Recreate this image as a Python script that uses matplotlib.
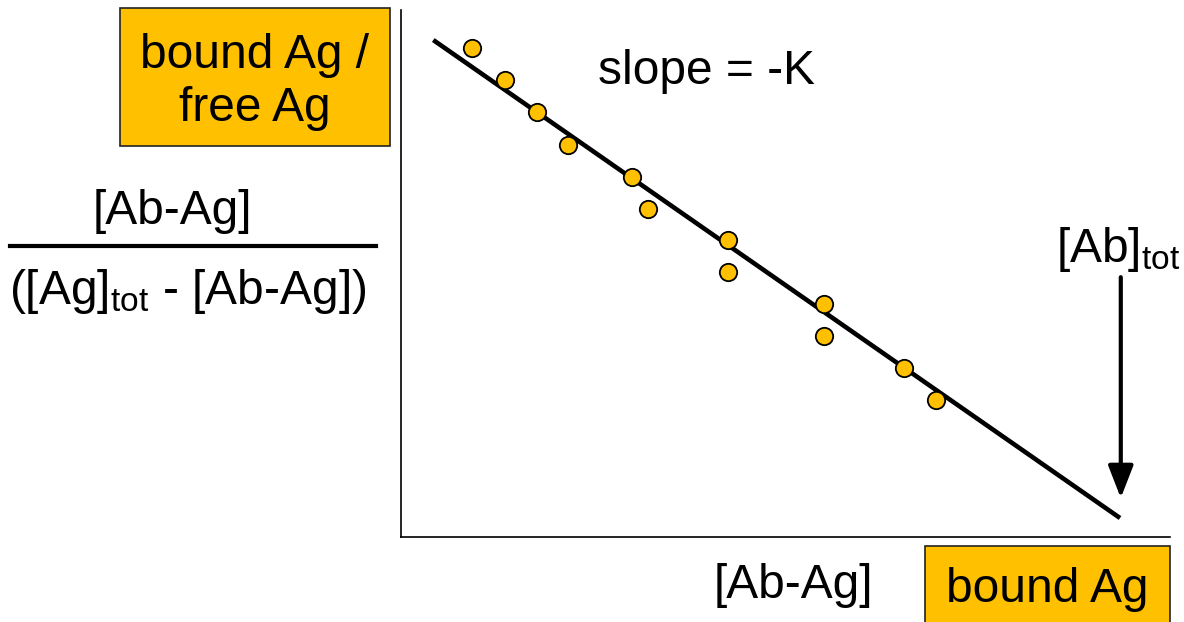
import matplotlib
matplotlib.use("Agg")
import matplotlib.pyplot as plt
from matplotlib.patches import Rectangle
from matplotlib.lines import Line2D

plt.rcParams['font.family'] = ['Liberation Sans', 'DejaVu Sans']
plt.rcParams['mathtext.fontset'] = 'custom'
plt.rcParams['mathtext.rm'] = 'Liberation Sans'
plt.rcParams['mathtext.it'] = 'Liberation Sans'

# data (arbitrary units)
bound_x = [9.2, 13.5, 17.7, 21.7, 30.0, 32.1, 42.5, 42.5, 55.0, 55.0, 65.4, 69.6]
ratio_y = [92.8, 86.7, 80.6, 74.4, 68.3, 62.2, 56.4, 50.3, 44.2, 38.1, 32.1, 26.0]
fit_x = [4.2, 93.5]
fit_y = [94.3, 3.6]
ab_tot_x = 93.6
arrow_y = [49.3, 7.4]

W, H = 1184, 622
fig = plt.figure(figsize=(W / 100, H / 100), dpi=100)
orange = '#FFC000'

ax = fig.add_axes([401 / W, 1 - 537 / H, (1170 - 401) / W, (537 - 10) / H])
ax.set_xlim(0, 100)
ax.set_ylim(0, 100)
for s in ['top', 'right']:
    ax.spines[s].set_visible(False)
for s in ['left', 'bottom']:
    ax.spines[s].set_linewidth(1.2)
ax.set_xticks([])
ax.set_yticks([])
ax.patch.set_alpha(0)

ax.plot(fit_x, fit_y, color='black', lw=3.3, solid_capstyle='butt', zorder=2)
ax.plot(bound_x, ratio_y, 'o', ms=12.5, mfc=orange, mec='black', mew=1.3, zorder=3)
ax.annotate('', xy=(ab_tot_x, arrow_y[1]), xytext=(ab_tot_x, arrow_y[0]),
            arrowprops=dict(arrowstyle='-|>,head_width=0.35,head_length=0.9',
                            lw=3, color='black', shrinkA=0, shrinkB=0,
                            mutation_scale=22))

fs = 34.5
def fx(px):
    return px / W
def fy(py):
    return 1 - py / H

fig.text(fx(706), fy(71), 'slope = -K', fontsize=fs, ha='center', va='center')
fig.text(fx(1118), fy(249), r'[Ab]$_{\mathrm{tot}}$', fontsize=fs, ha='center', va='center')

# top-left box
fig.patches.append(Rectangle((fx(120), fy(146)), (390 - 120) / W, (146 - 8) / H,
                             transform=fig.transFigure, facecolor=orange,
                             edgecolor='#222222', lw=1.2, zorder=0))
fig.text(fx(255), fy(82), 'bound Ag /\nfree Ag', fontsize=fs, ha='center', va='center',
         linespacing=1.22)

# fraction label
fig.text(fx(172), fy(212), '[Ab-Ag]', fontsize=fs, ha='center', va='center')
fig.lines.append(Line2D([fx(10), fx(376)], [fy(246), fy(246)], transform=fig.transFigure,
                        color='black', lw=3))
fig.text(fx(188), fy(292), r'([Ag]$_{\mathrm{tot}}$ - [Ab-Ag])', fontsize=fs,
         ha='center', va='center')

# x label
fig.text(fx(793), fy(585), '[Ab-Ag]', fontsize=fs, ha='center', va='center')
fig.patches.append(Rectangle((fx(925), fy(630)), (1170 - 925) / W, (630 - 546) / H,
                             transform=fig.transFigure, facecolor=orange,
                             edgecolor='#222222', lw=1.2, zorder=0))
fig.text(fx(1047), fy(590), 'bound Ag', fontsize=fs, ha='center', va='center')

fig.savefig('out.png', dpi=100)
